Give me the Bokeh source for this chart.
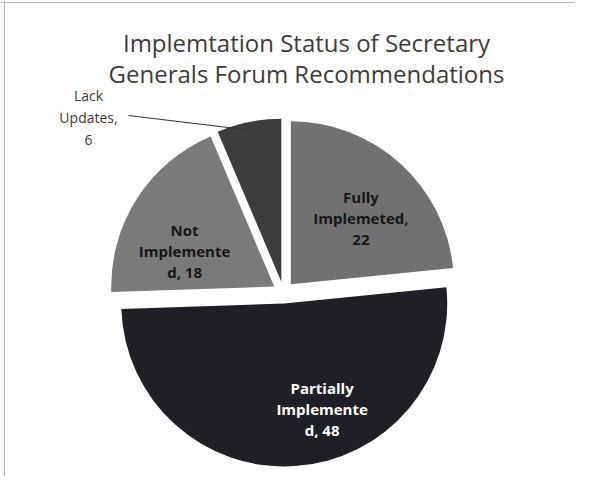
import numpy as np
from bokeh.plotting import figure
from bokeh.models import Range1d, Span, ColumnDataSource
from bokeh.core.properties import value
from bokeh.embed import file_html
from bokeh.resources import INLINE

# ---- data ----
categories = ["Fully Implemeted", "Partially Implemente d", "Not Implemente d", "Lack Updates"]
values = [22, 48, 18, 6]
label_lines = ["Fully\nImplemeted,\n22", "Partially\nImplemente\nd, 48",
               "Not\nImplemente\nd, 18", "Lack\nUpdates,\n6"]
title_lines = ["Implemtation Status of Secretary", "Generals Forum Recommendations"]

# ---- styles ----
colors = ["#717171", "#1f1f26", "#7a7a7a", "#3d3d3d"]
text_colors = ["#161616", "#ffffff", "#161616", "#3a3a3a"]

W, H = 574, 476
p = figure(width=W, height=H, output_backend="svg", toolbar_location=None,
           x_range=Range1d(0, W), y_range=Range1d(0, H), min_border=0)
p.axis.visible = False
p.grid.visible = False
p.outline_line_color = None
p.background_fill_color = "white"

cx, cy, r, d = 283.0, 184.0, 163.0, 11.0
vals = np.array(values, dtype=float)
frac = vals / vals.sum()
end_cw = np.cumsum(frac) * 2 * np.pi
start_cw = end_cw - frac * 2 * np.pi
mid_cw = (start_cw + end_cw) / 2
start = np.pi / 2 - start_cw
end = np.pi / 2 - end_cw
mid = np.pi / 2 - mid_cw
wx = cx + d * np.cos(mid)
wy = cy + d * np.sin(mid)

src = ColumnDataSource(dict(x=wx, y=wy, start=start, end=end, color=colors, cat=categories))
p.wedge(x="x", y="y", radius=r, start_angle="start", end_angle="end", direction="clock",
        fill_color="color", line_color=None, source=src)

# inside labels (first three slices)
dist = [108, 114, 115]
offx = [5, 31, -2]
offy = [-6, -3, -20]
for i in range(3):
    lx = cx + dist[i] * np.cos(mid[i]) + offx[i]
    ly = cy + dist[i] * np.sin(mid[i]) + offy[i]
    p.text(x=[lx], y=[ly], text=[label_lines[i]], text_align="center", text_baseline="middle",
           text_font=value("Open Sans"), text_font_style="bold", text_font_size="15px",
           text_line_height=1.05, text_color=text_colors[i])

# outside label for the small slice, with leader line
i = 3
ax = wx[i] + r * np.cos(mid[i])
ay = wy[i] + r * np.sin(mid[i]) - 8
lbl_x, lbl_y = 88, 359
p.segment(x0=[lbl_x + 40], y0=[lbl_y + 2], x1=[ax], y1=[ay], line_color="#333333", line_width=1.2)
p.text(x=[lbl_x], y=[lbl_y], text=[label_lines[i]], text_align="center", text_baseline="middle",
       text_font=value("Open Sans"), text_font_size="14px", text_line_height=1.15,
       text_color=text_colors[i])

# title
p.text(x=[306, 306], y=[434, 403], text=title_lines, text_align="center", text_baseline="middle",
       text_font=value("Open Sans"), text_font_size="24px", text_color="#3c3c3c")

# scan border (top and left)
p.add_layout(Span(location=474, dimension="width", line_color="#b5b5b5", line_width=1))
p.add_layout(Span(location=4, dimension="height", line_color="#b5b5b5", line_width=1))

open("out.html", "w").write(file_html(p, INLINE))
